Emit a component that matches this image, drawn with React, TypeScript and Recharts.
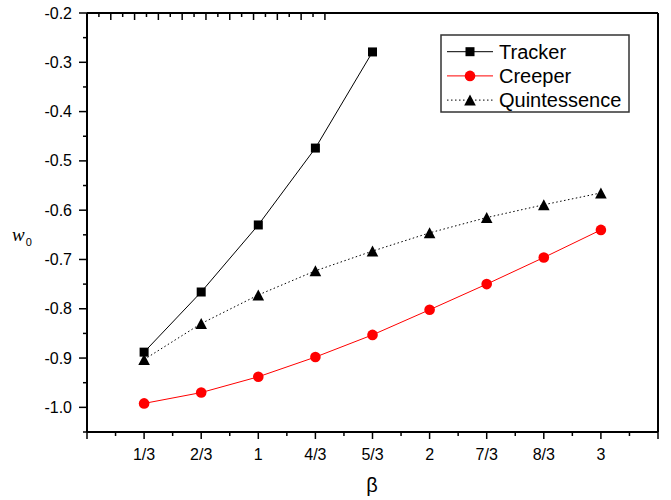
import { LineChart, Line, XAxis, YAxis } from "recharts";

// beta values (x) and w0 for each model
const beta = [1 / 3, 2 / 3, 1, 4 / 3, 5 / 3, 2, 7 / 3, 8 / 3, 3];
const betaLabels = ["1/3", "2/3", "1", "4/3", "5/3", "2", "7/3", "8/3", "3"];
const tracker = [-0.888, -0.766, -0.63, -0.474, -0.279];
const creeper = [-0.992, -0.97, -0.938, -0.898, -0.853, -0.802, -0.75, -0.696, -0.64];
const quintessence = [-0.903, -0.83, -0.772, -0.723, -0.683, -0.646, -0.615, -0.589, -0.565];

const xTicks = [0, 1 / 6, 1 / 3, 1 / 2, 2 / 3, 5 / 6, 1, 7 / 6, 4 / 3, 3 / 2, 5 / 3, 11 / 6, 2, 13 / 6, 7 / 3, 5 / 2, 8 / 3, 17 / 6, 3, 19 / 6, 10 / 3];
const yTicks = [-1.05, -1.0, -0.95, -0.9, -0.85, -0.8, -0.75, -0.7, -0.65, -0.6, -0.55, -0.5, -0.45, -0.4, -0.35, -0.3, -0.25, -0.2];

const data = beta.map((b, i) => ({
  beta: b,
  tracker: i < tracker.length ? tracker[i] : null,
  creeper: creeper[i],
  quintessence: quintessence[i],
}));

const FONT = "'Liberation Sans', Arial, sans-serif";

const Square = ({ cx, cy }: any) =>
  cx == null || cy == null ? null : <rect x={cx - 4.5} y={cy - 4.5} width={9} height={9} fill="#000" />;
const Circle = ({ cx, cy }: any) =>
  cx == null || cy == null ? null : <circle cx={cx} cy={cy} r={5.3} fill="#ff0000" />;
const Triangle = ({ cx, cy }: any) =>
  cx == null || cy == null ? null : (
    <polygon points={`${cx},${cy - 5.5} ${cx + 5.8},${cy + 5.5} ${cx - 5.8},${cy + 5.5}`} fill="#000" />
  );

const BottomTick = ({ x, y, payload }: any) => {
  const k = Math.round(payload.value * 6);
  const major = k % 2 === 0;
  const label = major && k >= 2 && k <= 18 ? betaLabels[k / 2 - 1] : null;
  return (
    <g>
      <line x1={x} x2={x} y1={y} y2={y + (major ? 7 : 4)} stroke="#000" strokeWidth={1.5} />
      {label && (
        <text x={x} y={y + 28} textAnchor="middle" fontSize={16} fontFamily={FONT} fill="#000">
          {label}
        </text>
      )}
    </g>
  );
};

const TopTick = ({ x, y, payload }: any) => {
  const major = Math.round(payload.value * 6) % 2 === 0;
  return <line x1={x} x2={x} y1={y} y2={y + (major ? 7 : 4)} stroke="#000" strokeWidth={1.5} />;
};

const LeftTick = ({ x, y, payload }: any) => {
  const k = Math.round(-payload.value * 20);
  const major = k % 2 === 0;
  return (
    <g>
      <line x1={x} x2={x - (major ? 8 : 4)} y1={y} y2={y} stroke="#000" strokeWidth={1.5} />
      {major && k <= 20 && (
        <text x={x - 15} y={y + 5.5} textAnchor="end" fontSize={16} fontFamily={FONT} fill="#000">
          {payload.value.toFixed(1)}
        </text>
      )}
    </g>
  );
};

const RightTick = ({ x, y, payload }: any) => {
  const major = Math.round(-payload.value * 20) % 2 === 0;
  return <line x1={x} x2={x - (major ? 8 : 4)} y1={y} y2={y} stroke="#000" strokeWidth={1.5} />;
};

const legendItems = [
  { name: "Tracker", color: "#000", dash: undefined, Marker: Square },
  { name: "Creeper", color: "#ff0000", dash: undefined, Marker: Circle },
  { name: "Quintessence", color: "#000", dash: "1.5 2.5", Marker: Triangle },
];

const axisLine = { stroke: "#000", strokeWidth: 2 };

export default function App() {
  return (
    <div style={{ position: "absolute", left: 0, top: 0, width: 671, height: 500 }}>
      <LineChart width={671} height={500} data={data} margin={{ top: 0, right: 0, bottom: 0, left: 0 }}>
        <XAxis
          xAxisId="b"
          dataKey="beta"
          type="number"
          domain={[0, 10 / 3]}
          ticks={xTicks}
          interval={0}
          height={68}
          tickSize={0}
          tickMargin={0}
          tickLine={false}
          axisLine={axisLine}
          tick={<BottomTick />}
          label={(p: any) => (
            <text x={372} y={492} textAnchor="middle" fontSize={20} fontFamily={FONT} fill="#000">
              β
            </text>
          )}
        />
        <XAxis
          xAxisId="t"
          orientation="top"
          type="number"
          domain={[0, 10 / 3]}
          ticks={xTicks}
          interval={0}
          height={13}
          tickSize={0}
          tickMargin={0}
          tickLine={false}
          axisLine={axisLine}
          tick={<TopTick />}
        />
        <YAxis
          yAxisId="l"
          type="number"
          domain={[-1.05, -0.2]}
          ticks={yTicks}
          interval={0}
          width={87}
          tickSize={0}
          tickMargin={0}
          tickLine={false}
          axisLine={axisLine}
          tick={<LeftTick />}
          label={(p: any) => (
            <text x={12} y={241} fontSize={19} fontFamily="'Liberation Serif', serif" fontStyle="italic" fill="#000">
              w
              <tspan fontSize={11} fontStyle="normal" fontFamily={FONT} dx={1} dy={5}>
                0
              </tspan>
            </text>
          )}
        />
        <YAxis
          yAxisId="r"
          orientation="right"
          type="number"
          domain={[-1.05, -0.2]}
          ticks={yTicks}
          interval={0}
          width={13}
          tickSize={0}
          tickMargin={0}
          tickLine={false}
          axisLine={axisLine}
          tick={<RightTick />}
        />
        <Line
          xAxisId="b"
          yAxisId="l"
          dataKey="quintessence"
          stroke="#000"
          strokeWidth={1}
          strokeDasharray="1.5 2.5"
          dot={(p: any) => <Triangle key={p.index} {...p} />}
          isAnimationActive={false}
        />
        <Line
          xAxisId="b"
          yAxisId="l"
          dataKey="creeper"
          stroke="#ff0000"
          strokeWidth={1}
          dot={(p: any) => <Circle key={p.index} {...p} />}
          isAnimationActive={false}
        />
        <Line
          xAxisId="b"
          yAxisId="l"
          dataKey="tracker"
          stroke="#000"
          strokeWidth={1}
          dot={(p: any) => <Square key={p.index} {...p} />}
          isAnimationActive={false}
        />
      </LineChart>
      <svg width={190} height={80} style={{ position: "absolute", left: 440, top: 34 }}>
        <rect x={1} y={1} width={188} height={77} fill="#fff" stroke="#333" strokeWidth={1.5} />
        {legendItems.map((it, i) => {
          const cy = 17.7 + i * 24.2;
          return (
            <g key={it.name}>
              <line x1={7} x2={53} y1={cy} y2={cy} stroke={it.color} strokeWidth={1} strokeDasharray={it.dash} />
              <it.Marker cx={30} cy={cy} />
              <text x={59} y={cy + 7} fontSize={20} fontFamily={FONT} fill="#000">
                {it.name}
              </text>
            </g>
          );
        })}
      </svg>
    </div>
  );
}
